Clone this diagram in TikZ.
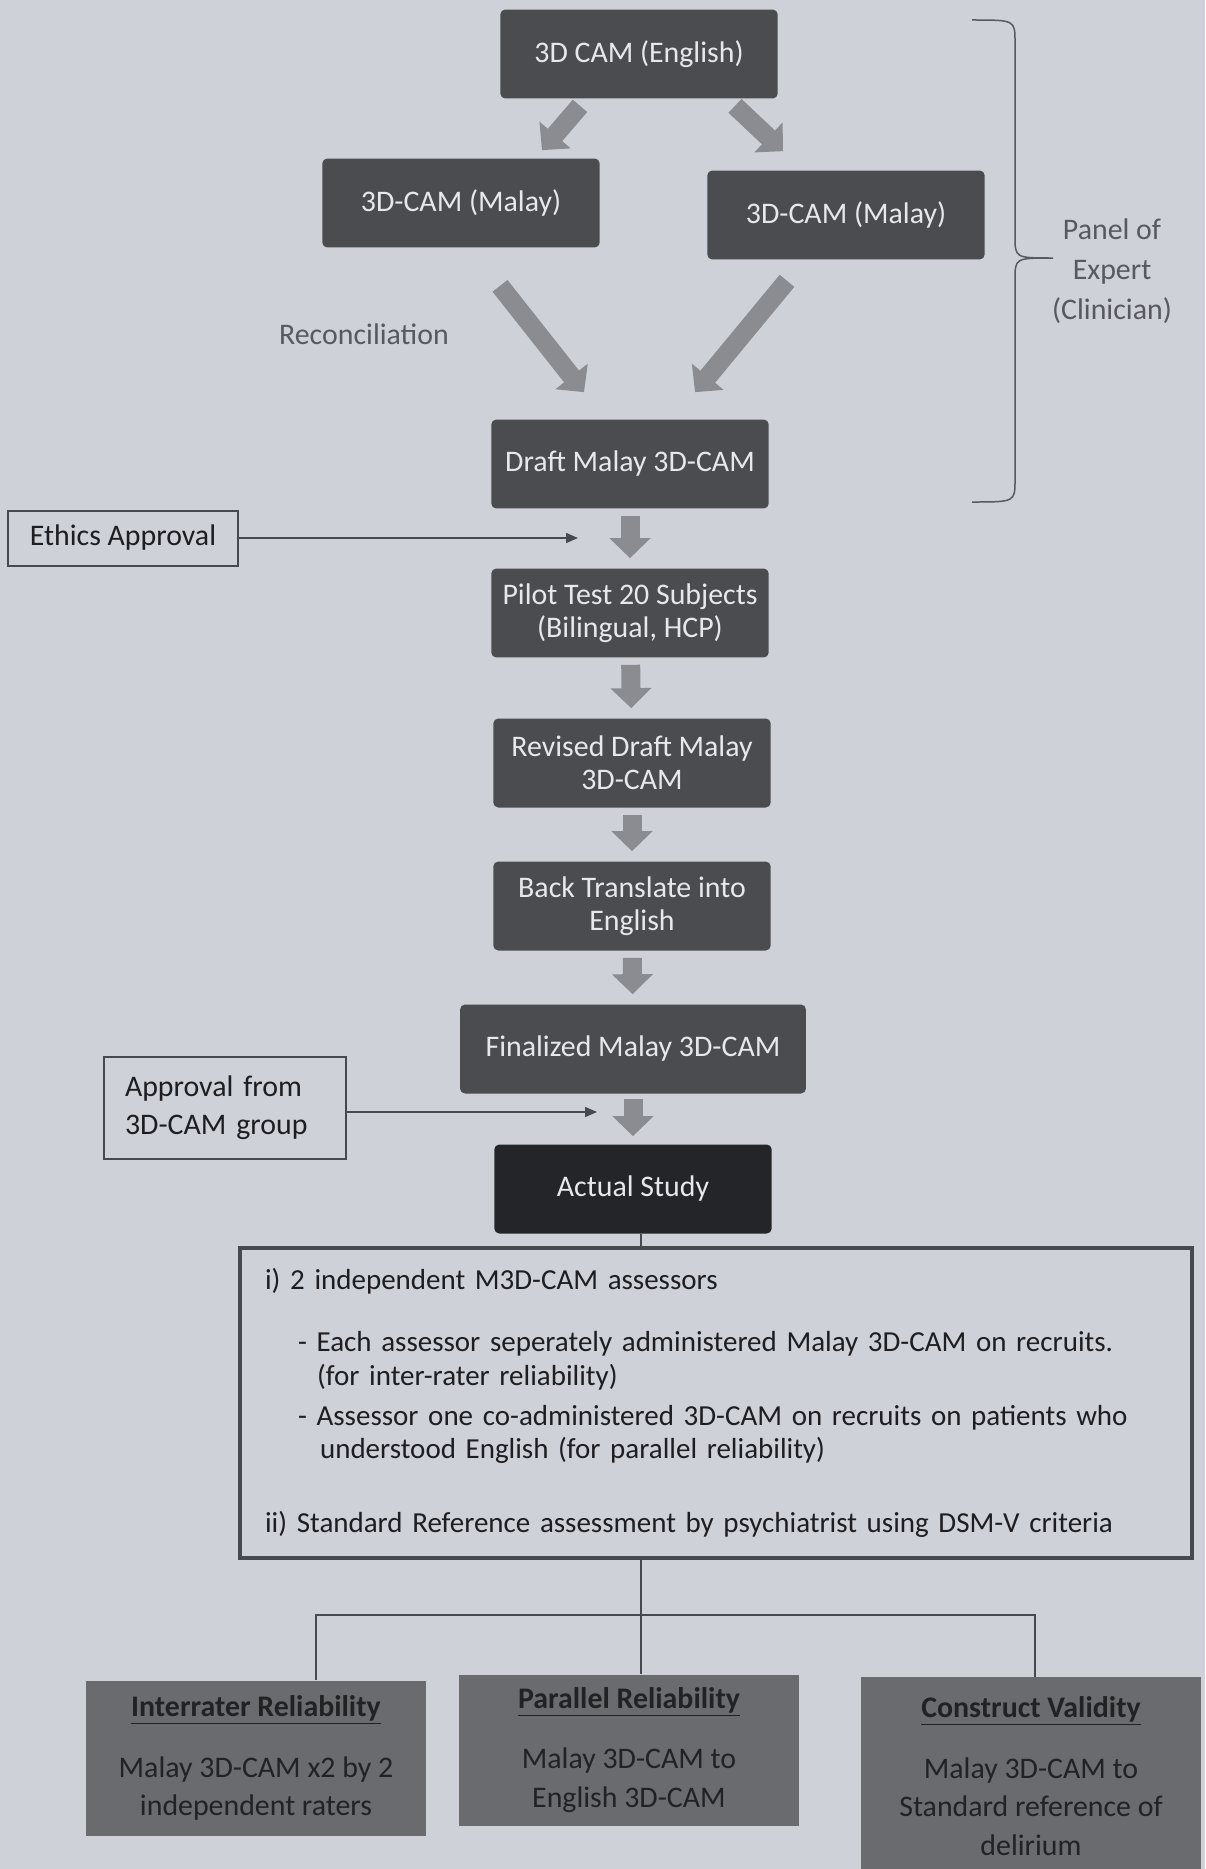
\documentclass[tikz,border=0pt]{standalone}
\usepackage{fontspec}
\setmainfont{Carlito}
\usepackage{tikz}
\usetikzlibrary{arrows.meta}
\usepackage{xcolor}

\definecolor{paper}{RGB}{206,209,216}
\definecolor{boxgray}{RGB}{74,76,80}
\definecolor{boxtext}{RGB}{232,232,234}
\definecolor{studyblack}{RGB}{36,37,40}
\definecolor{arrowgray}{RGB}{138,140,146}
\definecolor{linegray}{RGB}{72,73,78}
\definecolor{notegray}{RGB}{88,89,94}
\definecolor{resultgray}{RGB}{106,107,111}
\definecolor{resultink}{RGB}{34,34,36}
\definecolor{inktext}{RGB}{30,30,34}

\begin{document}
\begin{tikzpicture}[x=0.02cm, y=-0.02cm,
    darkbox/.style={fill=boxgray, text=boxtext, rounded corners=0.1cm, minimum width=5.55cm,
      minimum height=1.78cm, align=center, font=\fontsize{17}{19}\selectfont},
    plainbox/.style={draw=linegray, line width=0.04cm, text=inktext, font=\fontsize{17}{21.5}\selectfont},
    note/.style={text=notegray, font=\fontsize{17}{22.7}\selectfont},
    infobox/.style={draw=linegray, line width=0.07cm, minimum width=19.04cm, minimum height=6.2cm,
      text width=18.04cm, inner xsep=0.5cm, align=left, text=inktext, font=\fontsize{16.5}{19}\selectfont},
    resultbox/.style={fill=resultgray, text=resultink, minimum width=6.82cm, align=center,
      font=\fontsize{17}{22}\selectfont},
    fatarrow/.style={draw=arrowgray, line width=0.38cm, -{Triangle[length=0.4cm, width=0.8cm]}},
    thinarrow/.style={draw=linegray, line width=0.03cm, -{Triangle[length=0.24cm, width=0.2cm]}},
    tree/.style={draw=linegray, line width=0.03cm}
  ]
  \fill[paper] (0,0) rectangle (1205,1869);
  \useasboundingbox (0,0) rectangle (1205,1869);

  \node[darkbox] (eng) at (639,54) {3D CAM (English)};
  \node[darkbox] (malayL) at (461,203) {3D-CAM (Malay)};
  \node[darkbox] (malayR) at (846,215) {3D-CAM (Malay)};
  \node[darkbox] (draft) at (630,464) {Draft Malay 3D-CAM};
  \node[darkbox] (pilot) at (630,613) {Pilot Test 20 Subjects\\(Bilingual, HCP)};
  \node[darkbox] (revised) at (632,763) {Revised Draft Malay\\3D-CAM};
  \node[darkbox] (back) at (632,906) {Back Translate into\\English};
  \node[darkbox, minimum width=6.92cm] (final) at (633,1049) {Finalized Malay 3D-CAM};
  \node[darkbox, fill=studyblack] (actual) at (633,1189) {Actual Study};

  \node[note] (recon) at (364,334) {Reconciliation};
  \node[note, align=center] (panel) at (1112,271) {Panel of\\Expert\\(Clinician)};

  \node[plainbox, minimum width=4.62cm, minimum height=1.1cm] (ethics) at (123,538) {Ethics Approval};
  \node[plainbox, minimum width=4.84cm, minimum height=2.04cm, text width=4.0cm, inner xsep=0.42cm,
    align=left] (approval) at (225,1108) {Approval from\\3D-CAM group};
  \coordinate (ethicsend) at (578,538);
  \coordinate (approvalend) at (597,1112);

  \draw[fatarrow] ([shift={(-59,7)}]eng.south) -- ([shift={(81,-8)}]malayL.north);
  \draw[fatarrow] ([shift={(96,7)}]eng.south) -- ([shift={(-63,-19)}]malayR.north);
  \draw[fatarrow] ([shift={(39,38)}]malayL.south) -- ([shift={(-46,-27)}]draft.north);
  \draw[fatarrow] ([shift={(-59,21)}]malayR.south) -- ([shift={(65,-27)}]draft.north);
  \draw[fatarrow, shorten <=0.14cm, shorten >=0.2cm] (draft) -- (pilot);
  \draw[fatarrow, shorten <=0.14cm, shorten >=0.2cm] (pilot) -- (revised);
  \draw[fatarrow, shorten <=0.14cm, shorten >=0.2cm] (revised) -- (back);
  \draw[fatarrow, shorten <=0.14cm, shorten >=0.2cm] (back) -- (final);
  \draw[fatarrow, shorten <=0.1cm, shorten >=0.16cm] (final) -- (actual);

  \draw[thinarrow] (ethics.east) -- (ethicsend);
  \draw[thinarrow] (approval.east |- approvalend) -- (approvalend);

  \draw[line width=0.03cm, draw=notegray] (972,20) .. controls (1015,20) .. (1015,42) -- (1015,236)
    .. controls (1015,258) .. (1053,258) .. controls (1015,258) .. (1015,280) -- (1015,480)
    .. controls (1015,502) .. (972,502);

  \node[infobox] (bigbox) at (716,1403) {%
    i) 2 independent M3D-CAM assessors\\[0.57cm]
    \hspace*{0.66cm}- Each assessor seperately administered Malay 3D-CAM on recruits.\\
    \hspace*{1.04cm}(for inter-rater reliability)\\[0.13cm]
    \hspace*{0.66cm}- Assessor one co-administered 3D-CAM on recruits on patients who\\
    \hspace*{1.1cm}understood English (for parallel reliability)\\[0.81cm]
    ii) Standard Reference assessment by psychiatrist using DSM-V criteria};
  \draw[tree] ([xshift=0.16cm]actual.south) -- ([xshift=0.16cm]actual.south |- bigbox.north);

  \node[resultbox, minimum height=3.1cm] (inter) at (256,1758)
    {\underline{\textbf{Interrater Reliability}}\\[0.44cm]Malay 3D-CAM x2 by 2\\independent raters};
  \node[resultbox, minimum width=6.8cm, minimum height=3.02cm] (parallel) at (629,1750)
    {\underline{\textbf{Parallel Reliability}}\\[0.44cm]Malay 3D-CAM to\\English 3D-CAM};
  \node[resultbox, minimum height=3.96cm] (constr) at (1031,1776)
    {\underline{\textbf{Construct Validity}}\\[0.44cm]Malay 3D-CAM to\\Standard reference of\\delirium};

  \coordinate (split) at (641,1615);
  \draw[tree] (split |- bigbox.south) -- (split) -- (split |- parallel.north);
  \draw[tree] ([xshift=1.2cm]inter.north) |- ([xshift=0.08cm]constr.north |- split)
    -- ([xshift=0.08cm]constr.north);
\end{tikzpicture}
\end{document}
